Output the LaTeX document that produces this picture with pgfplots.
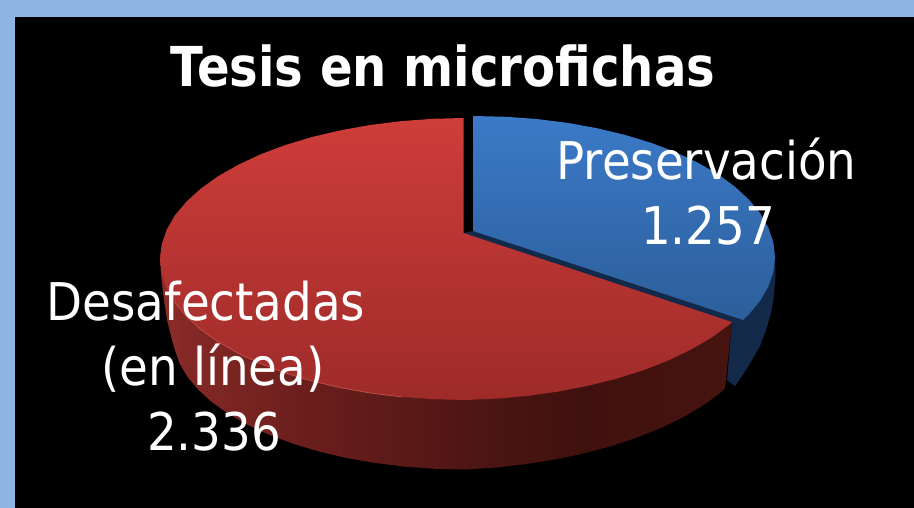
\documentclass[border=0pt]{standalone}
\usepackage{fontspec}
\setmainfont[FakeStretch=0.9]{DejaVu Sans}
\newfontfamily\titlefont[FakeStretch=0.875]{DejaVu Sans}
\usepackage{pgfplots}
\pgfplotsset{compat=1.18}
\definecolor{borderblue}{HTML}{8DB4E2}
\definecolor{bluedark}{HTML}{12294A}
\definecolor{rimred}{HTML}{C44C48}
\definecolor{bluetopA}{HTML}{3B7AC8}
\definecolor{bluetopB}{HTML}{2C5E9A}
\definecolor{redtopA}{HTML}{CE3D3A}
\definecolor{redtopB}{HTML}{9E2B29}
\definecolor{redsA}{HTML}{8A2B29}
\definecolor{redsB}{HTML}{6A1E1C}
\definecolor{redsC}{HTML}{4F1614}
\definecolor{redsD}{HTML}{3F110E}
\definecolor{redsE}{HTML}{47140F}
\pgfdeclarehorizontalshading{redside}{100bp}{
 color(0bp)=(redsA);
 color(25bp)=(redsA);
 color(38bp)=(redsB);
 color(52bp)=(redsC);
 color(62bp)=(redsD);
 color(75bp)=(redsE);
 color(100bp)=(redsE)}
\begin{document}
\begin{tikzpicture}
\begin{axis}[hide axis,scale only axis,width=914pt,height=508pt,
  xmin=0,xmax=914,ymin=0,ymax=508,y dir=reverse,no marks]
% background
\addplot[fill=borderblue,draw=none] coordinates {(0,0)(914,0)(914,508)(0,508)} -- cycle;
\addplot[fill=black,draw=none] coordinates {(15,17)(914,17)(914,508)(15,508)} -- cycle;
% blue side
\addplot[fill=bluedark,draw=none] coordinates {(775,257)(775.5,275)(774,295)(771,313)(766,330)(760,346)(752,360)(744,373)(735,386)(727,380)(732,322)(743,320)} -- cycle;
\addplot[fill=bluedark,draw=none] coordinates {(473,231)(743,320)(732,323)(463,233)} -- cycle;
% blue top: Preservacion 1.257
\addplot[top color=bluetopA,bottom color=bluetopB,draw=none] coordinates {(473,231)(473,116)(506.4,116.8)(537.4,119.1)(567.7,122.9)(597,128.2)(625,134.9)(651.3,142.9)(675.7,152.2)(697.9,162.7)(717.7,174.1)(734.8,186.5)(749,199.7)(760.3,213.4)(768.4,227.7)(773.4,242.3)(775,257)(773.4,271.7)(768.4,286.3)(760.3,300.6)(749,314.3)(743,320)} -- cycle;
% red side
\addplot[shade,shading=redside,draw=none] coordinates {(160,259)(161.5,280)(164,300)(167,320)(171,336)(174.6,349.1)(179.4,363)(187.3,376.6)(198.3,389.7)(212.1,402.3)(228.8,414.1)(248,425)(269.6,434.9)(293.4,443.8)(319,451.5)(346.2,457.9)(374.8,462.9)(404.3,466.6)(434.5,468.8)(465,469.5)(495.9,467.6)(526.5,464.1)(556.5,459.2)(585.4,453.1)(613,445.6)(639,436.8)(663,427)(685,416.2)(704.5,404.5)(721.3,392)(725,388)(732,322)(460,300)} -- cycle;
% red top: Desafectadas 2.336
\addplot[top color=redtopA,bottom color=redtopB,draw=none] coordinates {(463.5,233)(463.5,118)(433.1,118.8)(401.6,121.1)(370.8,124.9)(341,130.2)(312.5,136.9)(285.7,144.9)(260.9,154.2)(238.4,164.7)(218.3,176.1)(200.9,188.5)(186.4,201.7)(174.9,215.4)(166.7,229.7)(161.7,244.3)(160,259)(161.7,273.7)(166.7,288.3)(174.9,302.6)(186.4,316.3)(200.9,329.5)(218.3,341.9)(238.4,353.3)(260.9,363.8)(285.7,373.1)(312.5,381.1)(341,387.8)(370.8,393.1)(401.6,396.9)(433.1,399.2)(465,400)(496.9,398.6)(528.4,395.8)(559.2,391.4)(589,385.6)(617.5,378.4)(644.3,369.9)(669.1,360.1)(691.6,349.2)(711.7,337.5)(729.1,324.7)(732,322)} -- cycle;
\addplot[rimred,line width=0.8pt] coordinates {(174.9,302.6)(186.4,316.3)(200.9,329.5)(218.3,341.9)(238.4,353.3)(260.9,363.8)(285.7,373.1)(312.5,381.1)(341,387.8)(370.8,393.1)(401.6,396.9)};
% text
\node[anchor=base,white,font=\titlefont\fontsize{55}{60}\selectfont\bfseries] at (443,87) {Tesis en microfichas};
\node[anchor=base,white,font=\fontsize{52}{60}\selectfont] at (706.5,180) {Preservación};
\node[anchor=base,white,font=\fontsize{52}{60}\selectfont] at (708,244) {1.257};
\node[anchor=base,white,font=\fontsize{52}{60}\selectfont] at (206,320) {Desafectadas};
\node[anchor=base,white,font=\fontsize{52}{60}\selectfont] at (213,385) {(en línea)};
\node[anchor=base,white,font=\fontsize{52}{60}\selectfont] at (214,450) {2.336};
\end{axis}
\end{tikzpicture}
\end{document}
